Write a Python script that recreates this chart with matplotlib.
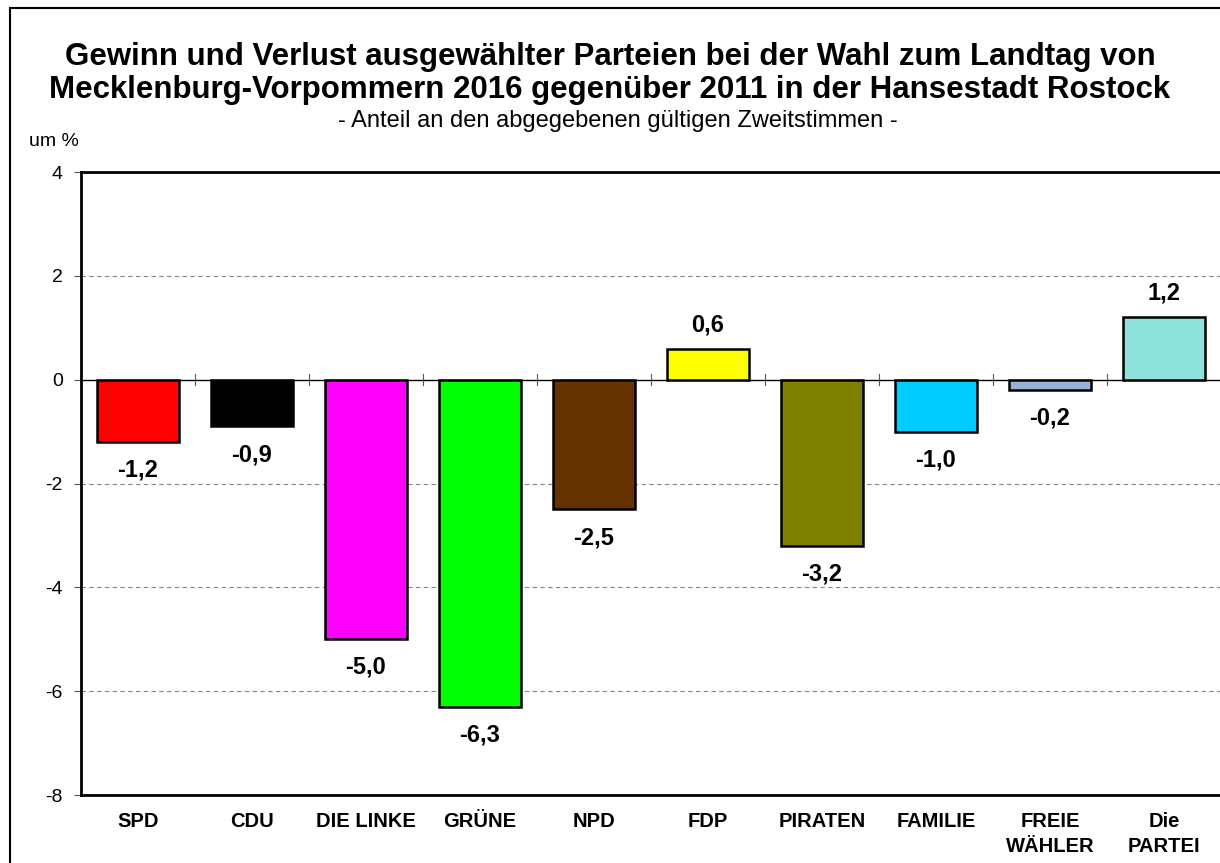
import matplotlib.pyplot as plt
from matplotlib.patches import Rectangle

# Parteien und Gewinn/Verlust in Prozentpunkten
parteien = ['SPD', 'CDU', 'DIE LINKE', 'GRÜNE', 'NPD', 'FDP', 'PIRATEN',
            'FAMILIE', 'FREIE\nWÄHLER', 'Die\nPARTEI']
werte = [-1.2, -0.9, -5.0, -6.3, -2.5, 0.6, -3.2, -1.0, -0.2, 1.2]
farben = ['#FF0000', '#000000', '#FF00FF', '#00FF00', '#663300', '#FFFF00',
          '#808000', '#00CCFF', '#95B3D7', '#8EE4DC']
y_ticks = [-8, -6, -4, -2, 0, 2, 4]

plt.rcParams['font.family'] = ['Liberation Sans', 'DejaVu Sans']

fig = plt.figure(figsize=(12.2, 8.63), dpi=100)
ax = fig.add_axes([81 / 1220, 1 - 795 / 863, 1140 / 1220, 623 / 863])

# Rahmen um die ganze Grafik (rechts/unten abgeschnitten)
fig.patches.append(Rectangle((10 / 1220, -0.1), 1.2, (863 - 8) / 863 + 0.1,
                             transform=fig.transFigure, fill=False,
                             edgecolor='black', linewidth=1.5))

x = list(range(len(parteien)))
ax.bar(x, werte, width=0.72, color=farben, edgecolor='black', linewidth=1.8, zorder=3)

ax.set_xlim(-0.5, len(parteien) - 0.5)
ax.set_ylim(-8, 4)
ax.set_yticks(y_ticks)
ax.set_yticklabels([str(t) for t in y_ticks], fontsize=14)
ax.tick_params(axis='y', length=5, width=0.8, color='#555555', pad=8)
ax.set_xticks(x)
ax.set_xticklabels(parteien, fontsize=14.5, fontweight='bold', linespacing=1.4)
ax.tick_params(axis='x', length=0, pad=12)

for t in [-6, -4, -2, 2]:
    ax.axhline(t, color='#888888', linestyle=(0, (4, 3)), linewidth=0.8, zorder=1)
ax.axhline(0, color='black', linewidth=1, zorder=2)

# kleine Trennstriche an der Nulllinie
for i in range(len(parteien) - 1):
    ax.plot([i + 0.5, i + 0.5], [-0.1, 0.1], color='#555555', linewidth=0.8, zorder=2)

for sp in ax.spines.values():
    sp.set_linewidth(2)
ax.spines['right'].set_visible(False)

for xi, w in zip(x, werte):
    txt = f'{w:.1f}'.replace('.', ',')
    if w >= 0:
        ax.annotate(txt, (xi, w), xytext=(0, 9), textcoords='offset points',
                    ha='center', va='bottom', fontsize=17, fontweight='bold')
    else:
        ax.annotate(txt, (xi, w), xytext=(0, -12), textcoords='offset points',
                    ha='center', va='top', fontsize=17, fontweight='bold')

fig.text(0.5, 1 - 57 / 863, 'Gewinn und Verlust ausgewählter Parteien bei der Wahl zum Landtag von',
         ha='center', va='center', fontsize=22.5, fontweight='bold')
fig.text(0.5, 1 - 90 / 863, 'Mecklenburg-Vorpommern 2016 gegenüber 2011 in der Hansestadt Rostock',
         ha='center', va='center', fontsize=22.5, fontweight='bold')
fig.text(0.506, 1 - 121 / 863, '- Anteil an den abgegebenen gültigen Zweitstimmen -',
         ha='center', va='center', fontsize=17)
fig.text(29 / 1220, 1 - 141 / 863, 'um %', ha='left', va='center', fontsize=14)

fig.savefig('out.png', dpi=100)
